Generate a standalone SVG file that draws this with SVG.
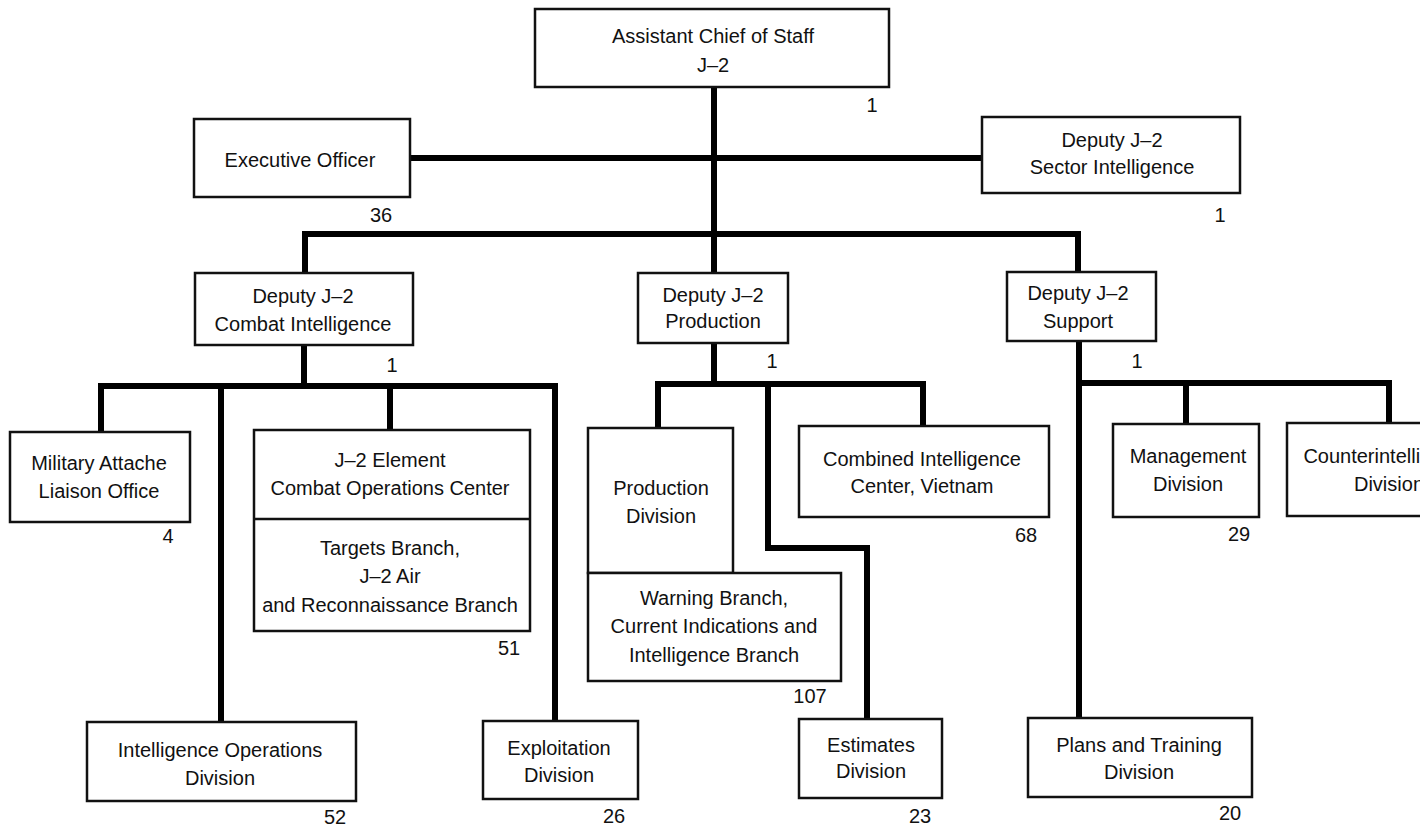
<svg xmlns="http://www.w3.org/2000/svg" width="1420" height="826" viewBox="0 0 1420 826">
<style>
.box{fill:#fff;stroke:#111;stroke-width:2.5}
.conn{fill:none;stroke:#000;stroke-width:6;stroke-linejoin:miter;stroke-linecap:butt}
.t{font-family:"Liberation Sans",Arial,sans-serif;font-size:20px;fill:#111;text-anchor:middle}
.n{font-family:"Liberation Sans",Arial,sans-serif;font-size:20px;fill:#111;text-anchor:middle}
</style>
<rect width="1420" height="826" fill="#fff"/>
<g id="connectors">
<path class="conn" d="M714 87 V273"/>
<path class="conn" d="M410 158 H982"/>
<path class="conn" d="M305 273 V234 H1078 V272"/>
<path class="conn" d="M304 345 V386"/>
<path class="conn" d="M101 432 V386 H555 V721"/>
<path class="conn" d="M221 386 V722"/>
<path class="conn" d="M390 386 V430"/>
<path class="conn" d="M714 343 V384"/>
<path class="conn" d="M658 428 V384 H923 V426"/>
<path class="conn" d="M768 384 V548 H867 V719"/>
<path class="conn" d="M1079 341 V718"/>
<path class="conn" d="M1079 383 H1389 V423"/>
<path class="conn" d="M1186 383 V424"/>
</g>
<g id="acos">
<rect class="box" x="535" y="9" width="354" height="78"/>
<text class="t" x="713" y="43">Assistant Chief of Staff</text>
<text class="t" x="713" y="72">J–2</text>
<text class="n" x="872" y="112">1</text>
</g>
<g id="exec">
<rect class="box" x="194" y="119" width="216" height="78"/>
<text class="t" x="300" y="167">Executive Officer</text>
<text class="n" x="381" y="222">36</text>
</g>
<g id="sector">
<rect class="box" x="982" y="117" width="258" height="76"/>
<text class="t" x="1112" y="147">Deputy J–2</text>
<text class="t" x="1112" y="174">Sector Intelligence</text>
<text class="n" x="1220" y="222">1</text>
</g>
<g id="combat">
<rect class="box" x="195" y="273" width="218" height="72"/>
<text class="t" x="303" y="303">Deputy J–2</text>
<text class="t" x="303" y="331">Combat Intelligence</text>
<text class="n" x="392" y="372">1</text>
</g>
<g id="attache">
<rect class="box" x="10" y="432" width="180" height="90"/>
<text class="t" x="99" y="470">Military Attache</text>
<text class="t" x="99" y="498">Liaison Office</text>
<text class="n" x="168" y="543">4</text>
</g>
<g id="element">
<rect class="box" x="254" y="430" width="276" height="201"/>
<line x1="254" y1="519" x2="530" y2="519" stroke="#111" stroke-width="2.5"/>
<text class="t" x="390" y="467">J–2 Element</text>
<text class="t" x="390" y="495">Combat Operations Center</text>
<text class="t" x="390" y="555">Targets Branch,</text>
<text class="t" x="390" y="583">J–2 Air</text>
<text class="t" x="390" y="612">and Reconnaissance Branch</text>
<text class="n" x="509" y="655">51</text>
</g>
<g id="intelops">
<rect class="box" x="87" y="722" width="269" height="79"/>
<text class="t" x="220" y="757">Intelligence Operations</text>
<text class="t" x="220" y="785">Division</text>
<text class="n" x="335" y="824">52</text>
</g>
<g id="exploitation">
<rect class="box" x="483" y="721" width="155" height="78"/>
<text class="t" x="559" y="755">Exploitation</text>
<text class="t" x="559" y="782">Division</text>
<text class="n" x="614" y="823">26</text>
</g>
<g id="production">
<rect class="box" x="638" y="273" width="150" height="70"/>
<text class="t" x="713" y="302">Deputy J–2</text>
<text class="t" x="713" y="328">Production</text>
<text class="n" x="772" y="368">1</text>
</g>
<g id="proddiv">
<rect class="box" x="588" y="428" width="145" height="145"/>
<text class="t" x="661" y="495">Production</text>
<text class="t" x="661" y="523">Division</text>
</g>
<g id="warning">
<rect class="box" x="588" y="573" width="253" height="108"/>
<text class="t" x="714" y="605">Warning Branch,</text>
<text class="t" x="714" y="633">Current Indications and</text>
<text class="t" x="714" y="662">Intelligence Branch</text>
<text class="n" x="810" y="703">107</text>
</g>
<g id="estimates">
<rect class="box" x="799" y="719" width="143" height="79"/>
<text class="t" x="871" y="752">Estimates</text>
<text class="t" x="871" y="778">Division</text>
<text class="n" x="920" y="823">23</text>
</g>
<g id="cic">
<rect class="box" x="799" y="426" width="250" height="91"/>
<text class="t" x="922" y="466">Combined Intelligence</text>
<text class="t" x="922" y="493">Center, Vietnam</text>
<text class="n" x="1026" y="542">68</text>
</g>
<g id="support">
<rect class="box" x="1007" y="272" width="149" height="69"/>
<text class="t" x="1078" y="300">Deputy J–2</text>
<text class="t" x="1078" y="328">Support</text>
<text class="n" x="1137" y="368">1</text>
</g>
<g id="management">
<rect class="box" x="1113" y="424" width="146" height="93"/>
<text class="t" x="1188" y="463">Management</text>
<text class="t" x="1188" y="491">Division</text>
<text class="n" x="1239" y="541">29</text>
</g>
<g id="counterintel">
<rect class="box" x="1287" y="423" width="160" height="93"/>
<text class="t" x="1389" y="463">Counterintelligence</text>
<text class="t" x="1389" y="491">Division</text>
</g>
<g id="plans">
<rect class="box" x="1028" y="718" width="224" height="79"/>
<text class="t" x="1139" y="752">Plans and Training</text>
<text class="t" x="1139" y="779">Division</text>
<text class="n" x="1230" y="820">20</text>
</g>
</svg>
